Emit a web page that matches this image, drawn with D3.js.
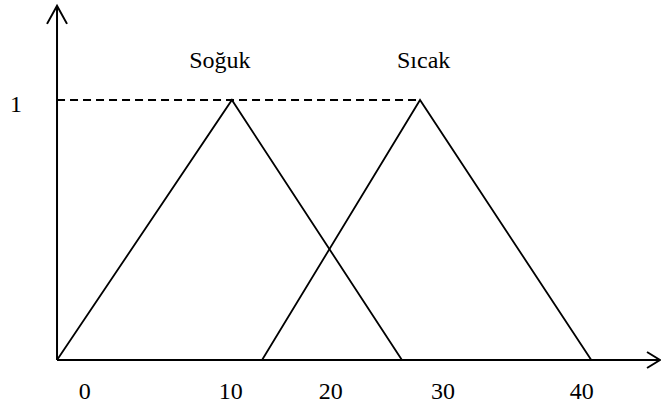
<!DOCTYPE html>
<html>
<head>
<meta charset="utf-8">
<script src="https://cdn.jsdelivr.net/npm/d3@7"></script>
</head>
<body style="margin:0">
<svg id="chart"></svg>
<script>
// membership functions (x in drawing units, y = degree of membership)
const setNames = ["Soğuk", "Sıcak"];
const sogukX = [-3.0, 11.5, 25.6];
const sicakX = [14.0, 27.1, 41.3];
const peakY = [0, 1, 0];

// x tick labels and where they sit on the drawing
const tickLabels = ["0", "10", "20", "30", "40"];
const tickAt = [-0.7, 11.4, 19.7, 29.0, 40.5];
const yTickLabels = ["1"];
const yTickAt = [1];

// axis extent
const xStart = -3.0, xEnd = 47.0;
const yTop = 1.362;

const root = d3.select("#chart").attr("width", 661).attr("height", 410);

const x = d3.scaleLinear().domain([0, 40]).range([93.2, 575.6]);
const y = d3.scaleLinear().domain([0, 1]).range([360, 100]);

const line = d3.line().x(d => x(d[0])).y(d => y(d[1]));

// axes
const x0 = x(xStart), y0 = y(0);
root.append("line")
  .attr("x1", x0).attr("y1", y0).attr("x2", x(xEnd)).attr("y2", y0)
  .attr("stroke", "#000").attr("stroke-width", 2);
root.append("line")
  .attr("x1", x0).attr("y1", y0).attr("x2", x0).attr("y2", y(yTop))
  .attr("stroke", "#000").attr("stroke-width", 2);

// arrow heads
const xe = x(xEnd), ye = y(yTop);
root.append("path")
  .attr("d", `M${xe - 13},${y0 - 8}L${xe},${y0}L${xe - 13},${y0 + 8}`)
  .attr("fill", "none").attr("stroke", "#000").attr("stroke-width", 2);
root.append("path")
  .attr("d", `M${x0 - 10},${ye + 18}L${x0},${ye}L${x0 + 10},${ye + 18}`)
  .attr("fill", "none").attr("stroke", "#000").attr("stroke-width", 2);

// dashed line at membership 1
root.append("line")
  .attr("x1", x0).attr("y1", y(1)).attr("x2", x(sicakX[1])).attr("y2", y(1))
  .attr("stroke", "#000").attr("stroke-width", 2)
  .attr("stroke-dasharray", "8,5");

// triangles
[sogukX, sicakX].forEach(xs => {
  root.append("path")
    .datum(xs.map((v, i) => [v, peakY[i]]))
    .attr("d", line)
    .attr("fill", "none")
    .attr("stroke", "#000")
    .attr("stroke-width", 1.8);
});

// all texts: name labels, x tick labels, y tick label
const texts = [
  ...setNames.map((t, i) => ({ t, x: x([sogukX[1] - 1.0, sicakX[1] + 0.3][i]), y: 68 })),
  ...tickLabels.map((t, i) => ({ t, x: x(tickAt[i]), y: 399 })),
  ...yTickLabels.map((t, i) => ({ t, x: 16, y: y(yTickAt[i]) + 12 }))
];

root.selectAll("text")
  .data(texts)
  .enter()
  .append("text")
  .attr("x", d => d.x)
  .attr("y", d => d.y)
  .attr("text-anchor", "middle")
  .style("font-family", "serif")
  .style("font-size", "24px")
  .text(d => d.t);
</script>
</body>
</html>
